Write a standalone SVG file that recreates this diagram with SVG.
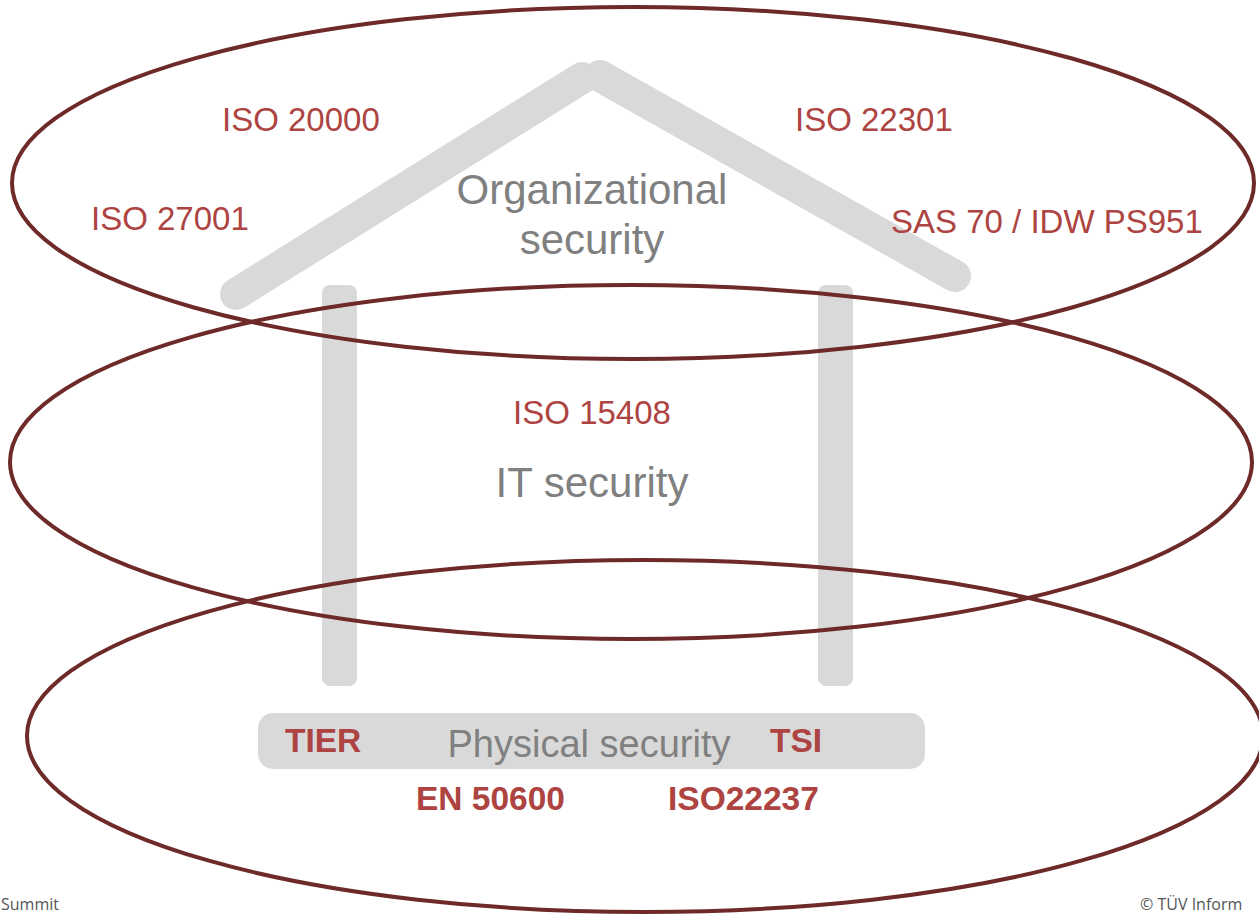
<svg xmlns="http://www.w3.org/2000/svg" width="1259" height="914" viewBox="0 0 1259 914">
<style>
.house{stroke:#d9d9d9;stroke-linecap:round;fill:none}
.ell{fill:none;stroke:#6e2a28;stroke-width:4}
.std{font-family:"Liberation Sans",Arial,sans-serif;font-size:33px;fill:#ad4442}
.bold{font-family:"Liberation Sans",Arial,sans-serif;font-size:33.5px;font-weight:bold;fill:#ad4442}
.lbl{font-family:"Liberation Sans",Arial,sans-serif;fill:#808080}
.foot{font-family:"Open Sans","Liberation Sans",sans-serif;font-size:16px;fill:#555}
</style>
<rect width="1259" height="914" fill="#fff"/>
<g id="house">
<line class="house" x1="236" y1="294" x2="582" y2="78" stroke-width="32"/>
<line class="house" x1="600" y1="76" x2="955" y2="276" stroke-width="32"/>
<rect x="322" y="285" width="35" height="401" rx="8" fill="#d9d9d9"/>
<rect x="818" y="285" width="35" height="401" rx="8" fill="#d9d9d9"/>
<rect x="258" y="713" width="667" height="56" rx="15" fill="#d9d9d9"/>
</g>
<g id="organizational">
<ellipse class="ell" cx="633" cy="183" rx="621" ry="176"/>
<text class="lbl" x="592" y="204" font-size="42" text-anchor="middle">Organizational</text>
<text class="lbl" x="592" y="254" font-size="42" text-anchor="middle">security</text>
<text class="std" x="222" y="131">ISO 20000</text>
<text class="std" x="795" y="131">ISO 22301</text>
<text class="std" x="91" y="230">ISO 27001</text>
<text class="std" x="891" y="233">SAS 70 / IDW PS951</text>
</g>
<g id="it">
<ellipse class="ell" cx="631" cy="462" rx="621" ry="177"/>
<text class="std" x="592" y="424" text-anchor="middle">ISO 15408</text>
<text class="lbl" x="592" y="497" font-size="42" text-anchor="middle">IT security</text>
</g>
<g id="physical">
<ellipse class="ell" cx="645" cy="736" rx="618" ry="176"/>
<text class="lbl" x="589" y="757" font-size="38" text-anchor="middle">Physical security</text>
<text class="bold" x="285" y="752">TIER</text>
<text class="bold" x="770" y="752">TSI</text>
<text class="bold" x="416" y="810">EN 50600</text>
<text class="bold" x="668" y="810">ISO22237</text>
</g>
<g id="footer">
<text class="foot" x="1" y="910">Summit</text>
<text class="foot" x="1140" y="910">© TÜV Inform</text>
</g>
<g id="connectors"/>
</svg>
